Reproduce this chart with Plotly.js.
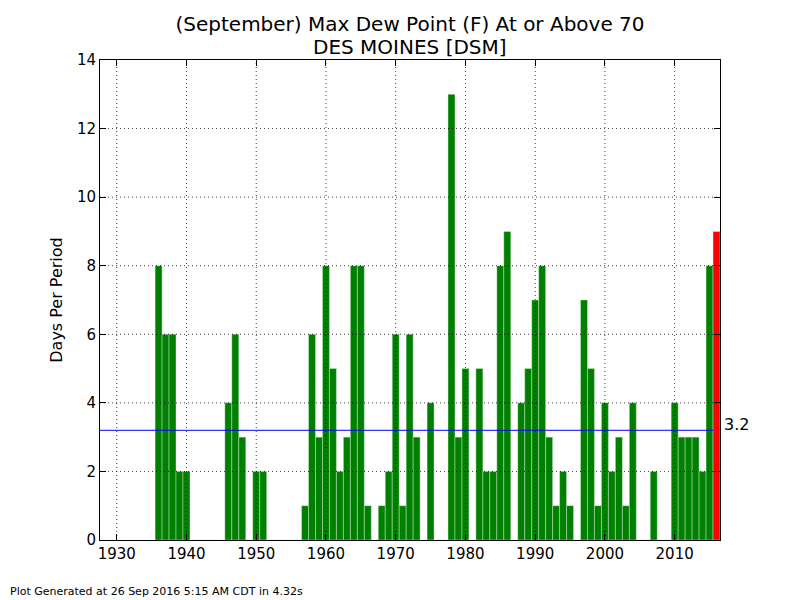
<!DOCTYPE html>
<html>
<head>
<meta charset="utf-8">
<script src="https://cdn.plot.ly/plotly-3.0.1.min.js"></script>
<style>
  html, body { margin: 0; padding: 0; background: #fff; }
  #chart { width: 800px; height: 600px; }
</style>
</head>
<body>
<div id="chart"></div>
<script>
// September days with a max dew point at or above 70F, Des Moines [DSM]
const years = [
  1936, 1937, 1938, 1939, 1940, 1941, 1942, 1943, 1944, 1945,
  1946, 1947, 1948, 1949, 1950, 1951, 1952, 1953, 1954, 1955,
  1956, 1957, 1958, 1959, 1960, 1961, 1962, 1963, 1964, 1965,
  1966, 1967, 1968, 1969, 1970, 1971, 1972, 1973, 1974, 1975,
  1976, 1977, 1978, 1979, 1980, 1981, 1982, 1983, 1984, 1985,
  1986, 1987, 1988, 1989, 1990, 1991, 1992, 1993, 1994, 1995,
  1996, 1997, 1998, 1999, 2000, 2001, 2002, 2003, 2004, 2005,
  2006, 2007, 2008, 2009, 2010, 2011, 2012, 2013, 2014, 2015,
  2016
];
const days = [
  8, 6, 6, 2, 2, 0, 0, 0, 0, 0,
  4, 6, 3, 0, 2, 2, 0, 0, 0, 0,
  0, 1, 6, 3, 8, 5, 2, 3, 8, 8,
  1, 0, 1, 2, 6, 1, 6, 3, 0, 4,
  0, 0, 13, 3, 5, 0, 5, 2, 2, 8,
  9, 0, 4, 5, 7, 8, 3, 1, 2, 1,
  0, 7, 5, 1, 4, 2, 3, 1, 4, 0,
  0, 2, 0, 0, 4, 3, 3, 3, 2, 8,
  9
];
const currentYear = 2016;
const averageDays = 3.2;

const xTicks = [1930, 1940, 1950, 1960, 1970, 1980, 1990, 2000, 2010];
const yTicks = [0, 2, 4, 6, 8, 10, 12, 14];
const xRange = [1927.6, 2016.5];
const yRange = [0, 14];

const barColors = years.map(y => (y === currentYear ? '#ff0000' : '#008000'));

const bars = {
  type: 'bar',
  x: years,
  y: days,
  width: 1,
  marker: {
    color: barColors,
    line: { color: 'rgba(225,242,225,0.8)', width: 0.5 }
  },
  hoverinfo: 'x+y'
};

// dotted grid drawn over the bars
const gridStyle = { color: 'rgba(0,0,0,0.75)', width: 1, dash: '1px,3px' };
const gridShapes = [];
xTicks.forEach(t => gridShapes.push({
  type: 'line', layer: 'above', xref: 'x', yref: 'paper',
  x0: t, x1: t, y0: 0, y1: 1, line: gridStyle
}));
yTicks.slice(1, -1).forEach(t => gridShapes.push({
  type: 'line', layer: 'above', xref: 'paper', yref: 'y',
  x0: 0, x1: 1, y0: t, y1: t, line: gridStyle
}));

// period average
const avgLine = {
  type: 'line', layer: 'above', xref: 'x', yref: 'y',
  x0: xRange[0], x1: currentYear - 0.5, y0: averageDays, y1: averageDays,
  line: { color: '#0000ff', width: 1 }
};

const font = { family: 'DejaVu Sans, sans-serif', color: '#000' };

const layout = {
  width: 800,
  height: 600,
  margin: { l: 100, r: 80, t: 60, b: 60 },
  paper_bgcolor: '#fff',
  plot_bgcolor: '#fff',
  showlegend: false,
  bargap: 0,
  font: font,
  title: {
    text: '(September) Max Dew Point (F) At or Above 70',
    font: { family: font.family, size: 20, color: '#000' },
    x: 0.5, xref: 'paper', xanchor: 'center',
    y: 1 - 24 / 600, yref: 'container', yanchor: 'middle'
  },
  xaxis: {
    range: xRange,
    tickvals: xTicks,
    ticktext: xTicks.map(String),
    ticks: 'inside', ticklen: 6, tickcolor: '#000', tickwidth: 1,
    showline: true, linecolor: '#000', linewidth: 1, mirror: 'ticks',
    showgrid: false, zeroline: false,
    tickfont: { family: font.family, size: 15, color: '#000' },
    automargin: false
  },
  yaxis: {
    range: yRange,
    tickvals: yTicks,
    ticktext: yTicks.map(String),
    ticks: 'inside', ticklen: 6, tickcolor: '#000', tickwidth: 1,
    showline: true, linecolor: '#000', linewidth: 1, mirror: 'ticks',
    showgrid: false, zeroline: false,
    tickfont: { family: font.family, size: 15, color: '#000' },
    title: { text: 'Days Per Period', font: { family: font.family, size: 16, color: '#000' }, standoff: 10 },
    automargin: false
  },
  shapes: gridShapes.concat([avgLine]),
  annotations: [
    {
      text: 'DES MOINES [DSM]',
      xref: 'paper', yref: 'paper', x: 0.5, y: (540 - 47) / 480,
      xanchor: 'center', yanchor: 'middle',
      showarrow: false,
      font: { family: font.family, size: 20, color: '#000' }
    },
    {
      text: averageDays.toFixed(1),
      xref: 'paper', yref: 'y', x: 1, y: averageDays,
      xanchor: 'left', yanchor: 'middle', xshift: 2, yshift: 6,
      showarrow: false,
      font: { family: font.family, size: 16, color: '#000' }
    },
    {
      text: 'Plot Generated at 26 Sep 2016 5:15 AM CDT in 4.32s',
      xref: 'paper', yref: 'paper',
      x: (8 - 100) / 620, y: (540 - 591) / 480,
      xanchor: 'left', yanchor: 'middle',
      showarrow: false,
      font: { family: font.family, size: 11, color: '#000' }
    }
  ]
};

Plotly.newPlot('chart', [bars], layout, { displayModeBar: false, staticPlot: true });
</script>
</body>
</html>
